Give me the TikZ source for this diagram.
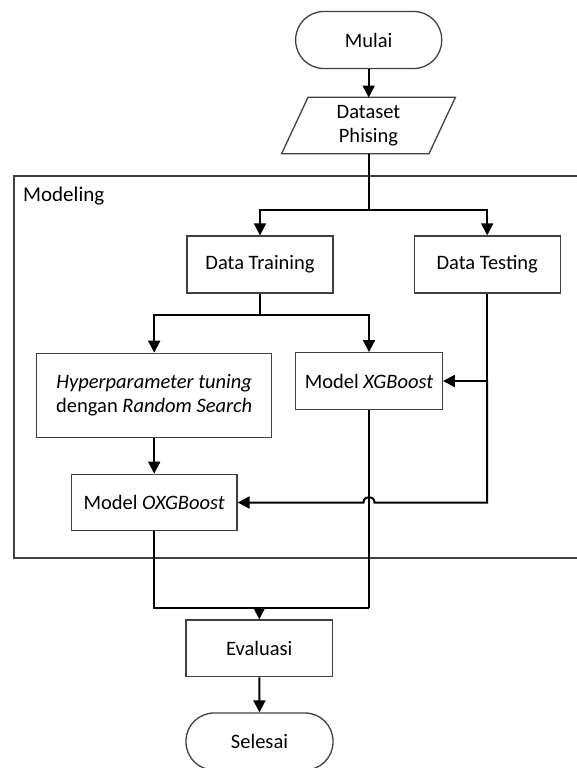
\documentclass[tikz,border=0pt]{standalone}
\usepackage{fontspec}
\setmainfont{Carlito}
\usetikzlibrary{arrows.meta,calc}
\definecolor{boxgray}{HTML}{404040}
\begin{document}
\begin{tikzpicture}[x=1pt,y=-1pt,
  proc/.style={draw=boxgray, line width=1.3pt, inner sep=0pt, align=center,
    font=\fontsize{20.5}{24}\selectfont},
  term/.style={proc, rounded corners=28pt},
  ln/.style={line width=2pt, draw=black},
  arr/.style={ln, -{Triangle[length=12pt,width=12pt]}},
  frame/.style={draw=boxgray, line width=2pt}]
\useasboundingbox (0,0) rectangle (576,768);
% Modeling frame
\draw[frame] (578,175.5) -- (13.5,175.5) -- (13.5,558) -- (578,558);
\node[anchor=base west, inner sep=0pt, font=\fontsize{21}{24}\selectfont] (lbl) at (23,201.5) {Modeling};
% nodes
\node[term, minimum width=146pt, minimum height=57pt] (mulai) at (368.7,40) {Mulai};
\node[inner sep=0pt, align=center, font=\fontsize{20.5}{24}\selectfont,
      minimum width=147pt, minimum height=56pt] (ds) at (368.5,125.5) {Dataset\\Phising};
\draw[draw=boxgray, line width=1.3pt] ([xshift=13.2pt]ds.north west) -- ([xshift=13.2pt]ds.north east)
  -- ([xshift=-13.2pt]ds.south east) -- ([xshift=-13.2pt]ds.south west) -- cycle;
\node[proc, minimum width=146pt, minimum height=57pt] (train) at (260,264.5) {Data Training};
\node[proc, minimum width=146pt, minimum height=57pt] (test) at (487.2,264.5) {Data Testing};
\node[proc, minimum width=235pt, minimum height=84pt] (hyper) at (154.2,395.3)
  {\textit{Hyperparameter tuning}\\dengan \textit{Random Search}};
\node[proc, minimum width=146.6pt, minimum height=56.6pt] (xgb) at (369,381) {Model \textit{XGBoost}};
\node[proc, minimum width=165.6pt, minimum height=56.4pt] (oxgb) at (154.2,502.5) {Model \textit{OXGBoost}};
\node[proc, minimum width=146.7pt, minimum height=56.7pt] (eval) at (259.3,648.3) {Evaluasi};
\node[term, minimum width=147pt, minimum height=57pt] (done) at (259.5,741.5) {Selesai};
% junctions
\coordinate (jd) at (368.5,210);
\coordinate (jt) at (260,315);
\coordinate (jx) at (487.2,381);
\coordinate (jb) at (369,607.5);
% connectors
\draw[arr] (mulai.south) -- (368.7,97.5);
\draw[ln] (ds.south) -- (jd);
\draw[arr] (jd) -| (train.north);
\draw[arr] (jd) -| (test.north);
\draw[ln] (train.south) -- (jt);
\draw[arr] (jt) -| (hyper.north);
\draw[arr] (jt) -| (xgb.north);
\draw[arr] (test.south) |- (xgb.east);
\draw[arr] (jx) |- ($(xgb.south |- oxgb.east)+(5.5,0)$)
  .. controls ($(xgb.south |- oxgb.east)+(5.5,-7.3)$) and ($(xgb.south |- oxgb.east)+(-5.5,-7.3)$)
  .. ($(xgb.south |- oxgb.east)+(-5.5,0)$) -- (oxgb.east);
\draw[arr] (hyper.south) -- (oxgb.north);
\draw[ln] (xgb.south) -- (jb);
\draw[ln] (oxgb.south) |- (jb);
\draw[arr] (eval.north |- jb) -- (eval.north);
\draw[arr] (eval.south) -- (done.north);
\end{tikzpicture}
\end{document}
